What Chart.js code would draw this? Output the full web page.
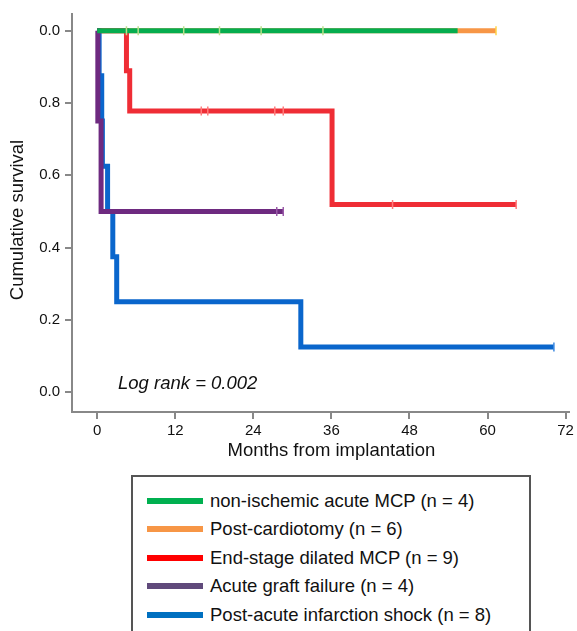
<!DOCTYPE html>
<html>
<head>
<meta charset="utf-8">
<script src="https://cdn.jsdelivr.net/npm/chart.js@4.4.1/dist/chart.umd.min.js"></script>
<style>
  html, body { margin: 0; padding: 0; background: #fff; }
  body { width: 577px; height: 631px; position: relative; overflow: hidden; font-family: "Liberation Sans", Arial, sans-serif; }
  #wrap { position: absolute; left: 0; top: 0; width: 577px; height: 470px; }
  #leyenda { position: absolute; left: 131px; top: 475px; width: 400px; height: 200px; border: 2px solid #555; box-sizing: border-box; }
  .item { position: absolute; left: 14px; height: 28px; display: flex; align-items: center; font-size: 18.5px; color: #111; white-space: nowrap; }
  .item span.linea { display: inline-block; width: 56px; height: 6px; margin-right: 7px; }
</style>
</head>
<body>
<div id="wrap"><canvas id="grafico"></canvas></div>
<div id="leyenda"></div>

<script>
// DATOS (meses, supervivencia acumulada)
const grupos = ["non-ischemic acute MCP (n = 4)", "Post-cardiotomy (n = 6)", "End-stage dilated MCP (n = 9)", "Acute graft failure (n = 4)", "Post-acute infarction shock (n = 8)"];
const coloresLinea = ["#06ad4f", "#f79646", "#ef2d35", "#6e2a80", "#0a66cc"];
const coloresLeyenda = ["#00b050", "#f79646", "#ff0000", "#604a7b", "#0070c0"];
const coloresCensura = ["#b9e08c", "#ffd34a", "#ff7a7a", "#9a5aa8", "#3d8ae0"];

const verdeMeses = [0, 55.4];
const verdeSuperv = [1, 1];
const naranjaMeses = [0, 61.3];
const naranjaSuperv = [1, 1];
const rojoMeses = [0, 4.5, 5.0, 36.1, 64.4];
const rojoSuperv = [1, 0.889, 0.778, 0.519, 0.519];
const moradoMeses = [0, 0.1, 0.6, 28.6];
const moradoSuperv = [1, 0.75, 0.5, 0.5];
const azulMeses = [0, 0.3, 0.7, 0.8, 1.6, 2.4, 3.0, 31.3, 70.2];
const azulSuperv = [1, 0.875, 0.75, 0.625, 0.5, 0.375, 0.25, 0.125, 0.125];

// censuras (meses)
const verdeCens = [4.5, 6.3, 13.3, 18.8, 25.2, 34.7];
const naranjaCens = [61.3];
const rojoCens = [16.0, 17.0, 27.3, 28.6, 45.4, 64.4];
const moradoCens = [27.6, 28.6];
const azulCens = [70.2];

const mesesTicks = [0, 12, 24, 36, 48, 60, 72];
const survTicks = [0, 0.2, 0.4, 0.6, 0.8, 1.0];
const survEtiquetas = ["0.0", "0.2", "0.4", "0.6", "0.8", "0.0"];

const meses = [verdeMeses, naranjaMeses, rojoMeses, moradoMeses, azulMeses];
const superv = [verdeSuperv, naranjaSuperv, rojoSuperv, moradoSuperv, azulSuperv];
const censuras = [verdeCens, naranjaCens, rojoCens, moradoCens, azulCens];
const orden = [0, 4, 2, 1, 3]; // verde arriba, luego morado...

// FUNCIONES:

function valorEn(mesesArr, supervArr, t) {
    let v = supervArr[0];
    for (let i = 0; i < mesesArr.length; i++) {
        if (mesesArr[i] <= t) v = supervArr[i];
    }
    return v;
}

function armarDatasets() {
    const ds = [];
    grupos.forEach((g, i) => {
        ds.push({
            label: g,
            data: meses[i].map((m, j) => ({ x: m, y: superv[i][j] })),
            showLine: true,
            borderColor: coloresLinea[i],
            borderWidth: 5,
            stepped: true,
            pointRadius: 0,
            fill: false,
            order: orden[i]
        });
    });
    grupos.forEach((g, i) => {
        ds.push({
            label: g + " censura",
            data: censuras[i].map(m => ({ x: m, y: valorEn(meses[i], superv[i], m) })),
            showLine: false,
            pointStyle: "line",
            rotation: 90,
            pointRadius: 4.5,
            borderWidth: 1.5,
            borderColor: coloresCensura[i],
            backgroundColor: coloresCensura[i],
            order: -1
        });
    });
    return ds;
}

// textos: log rank y titulos de ejes
const textos = {
    id: "textos",
    afterDraw(chart) {
        const ctx = chart.ctx;
        const sx = chart.scales.x, sy = chart.scales.y;
        ctx.save();
        ctx.fillStyle = "#111";
        ctx.textBaseline = "middle";
        ctx.font = "italic 18.5px 'Liberation Sans', Arial, sans-serif";
        ctx.fillText("Log rank = 0.002", sx.getPixelForValue(3.2), sy.getPixelForValue(0.024));

        ctx.font = "18.5px 'Liberation Sans', Arial, sans-serif";
        ctx.textAlign = "center";
        ctx.fillText("Months from implantation", sx.getPixelForValue(36), 451);

        ctx.translate(18, 220);
        ctx.rotate(-Math.PI / 2);
        ctx.fillText("Cumulative survival", 0, 0);
        ctx.restore();
    }
};

const gris = "#888";

new Chart(document.getElementById("grafico").getContext("2d"), {
    type: "scatter",
    data: { datasets: armarDatasets() },
    options: {
        responsive: true,
        maintainAspectRatio: false,
        animation: false,
        layout: { padding: { top: 6, right: 0, left: 0, bottom: 0 } },
        plugins: { legend: { display: false }, tooltip: { enabled: false } },
        scales: {
            x: {
                type: "linear",
                min: -3.87,
                max: 72.5,
                afterBuildTicks: (scale) => { scale.ticks = mesesTicks.map(v => ({ value: v })); },
                afterFit: (scale) => { scale.height = 58; },
                border: { color: gris, width: 2 },
                grid: { drawOnChartArea: false, color: gris, lineWidth: 2, tickLength: 7 },
                ticks: { color: "#111", font: { size: 15, family: "'Liberation Sans', Arial" }, padding: 3, maxRotation: 0, autoSkip: false }
            },
            y: {
                type: "linear",
                min: -0.0546,
                max: 1.046,
                afterBuildTicks: (scale) => { scale.ticks = survTicks.map(v => ({ value: v })); },
                afterFit: (scale) => { scale.width = 72; },
                border: { color: gris, width: 2 },
                grid: { drawOnChartArea: false, color: gris, lineWidth: 2, tickLength: 7 },
                ticks: {
                    color: "#111",
                    font: { size: 15, family: "'Liberation Sans', Arial" },
                    padding: 5,
                    autoSkip: false,
                    callback: function(v) {
                        const k = survTicks.findIndex(t => Math.abs(t - v) < 1e-6);
                        return k >= 0 ? survEtiquetas[k] : "";
                    }
                }
            }
        }
    },
    plugins: [textos]
});

// leyenda en HTML
const leyenda = document.getElementById("leyenda");
grupos.forEach((g, i) => {
    leyenda.innerHTML += `<div class="item" style="top:${10 + i * 28.4}px"><span class="linea" style="background:${coloresLeyenda[i]}"></span>${g}</div>`;
});
</script>
</body>
</html>
